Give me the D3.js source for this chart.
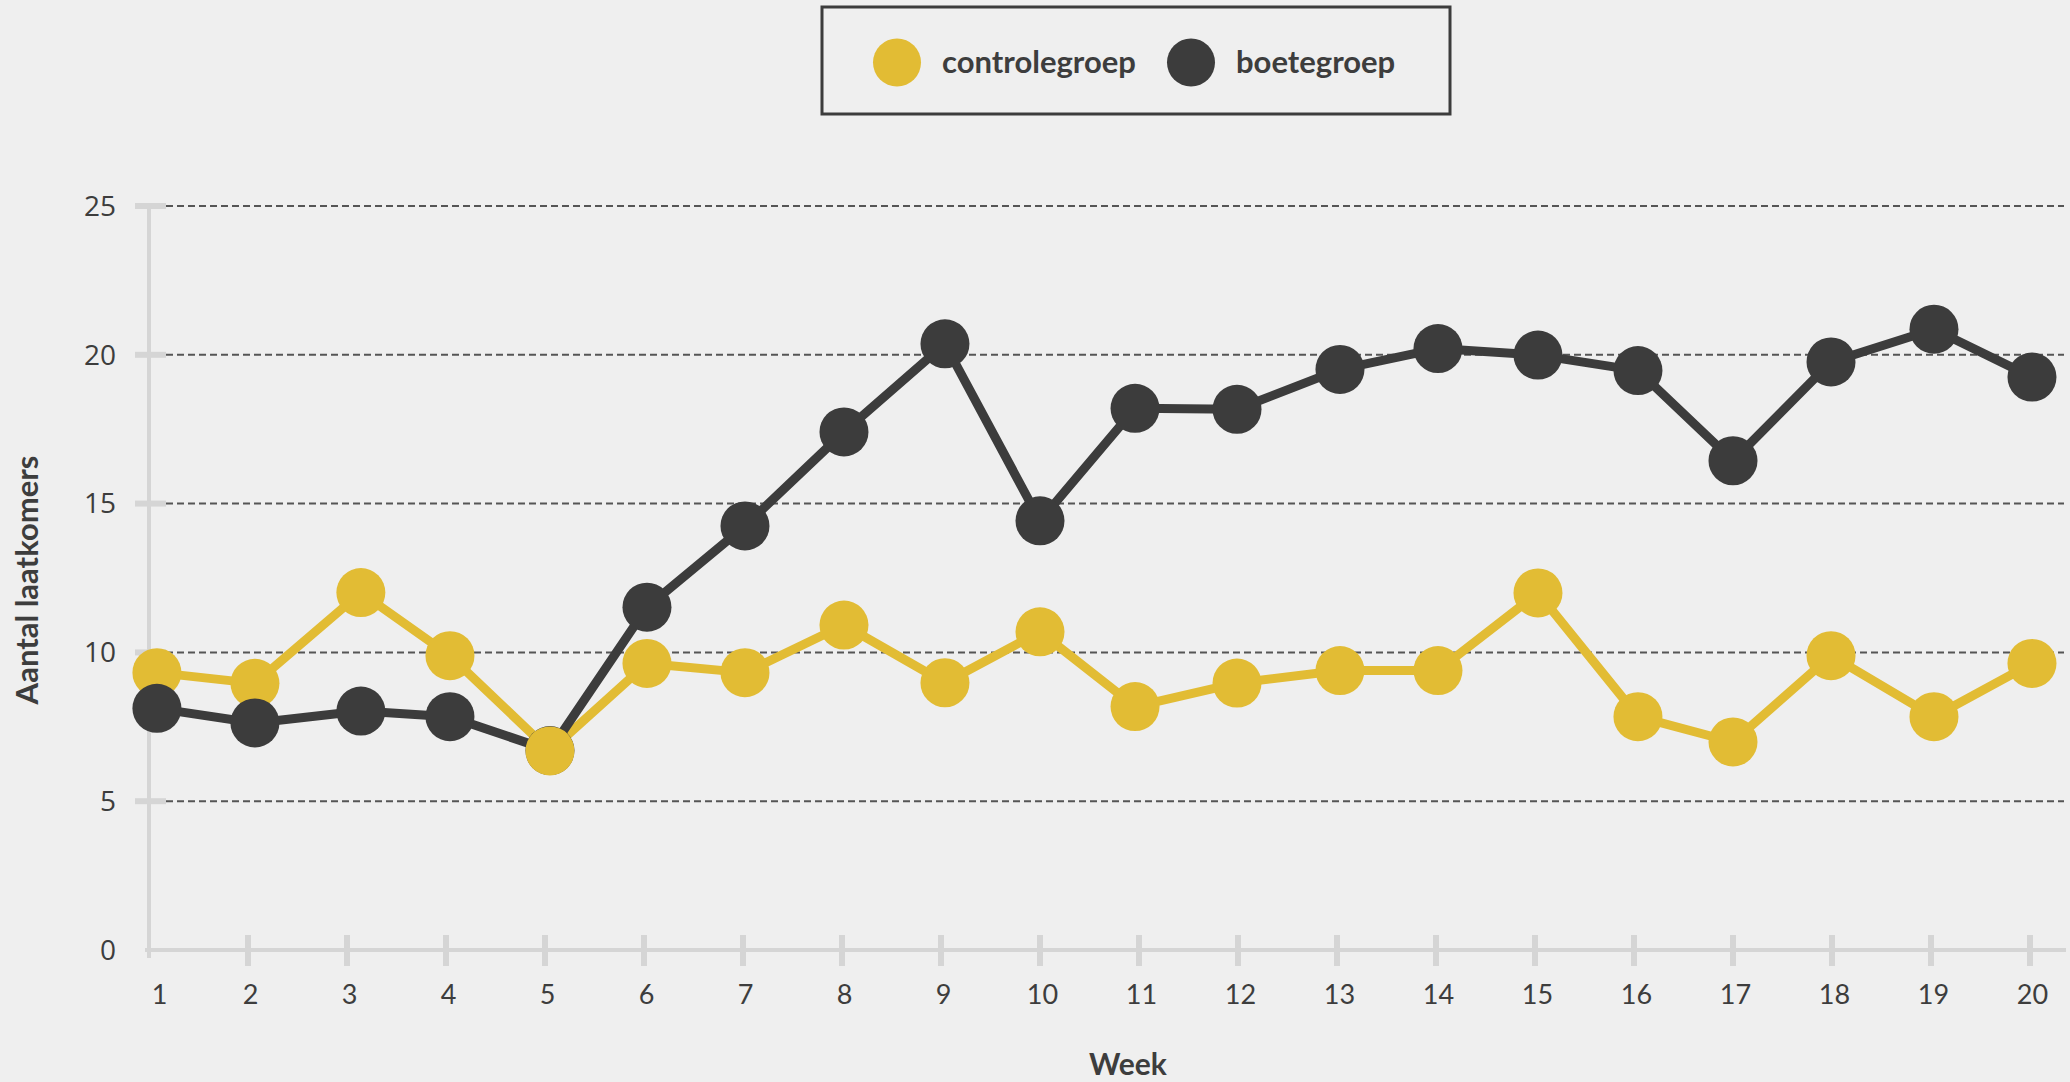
<!DOCTYPE html>
<html>
<head>
<meta charset="utf-8">
<script src="https://cdn.jsdelivr.net/npm/d3@7/dist/d3.min.js"></script>
<style>
  body { margin: 0; background: #efefef; }
  svg { display: block; }
</style>
</head>
<body>
<svg width="2070" height="1082"></svg>
<script>
// weeks and where each week's points sit
const weeks = [1,2,3,4,5,6,7,8,9,10,11,12,13,14,15,16,17,18,19,20];
const weekPos = [1.08,2.07,3.14,4.04,5.05,6.03,7.02,8.02,9.04,10.0,10.96,11.99,13.03,14.02,15.03,16.04,17.0,17.99,19.03,20.02];

const controlegroep = [9.32,8.96,12.01,9.89,6.69,9.63,9.32,10.92,8.98,10.69,8.18,8.97,9.39,9.39,12.0,7.84,6.99,9.89,7.84,9.63];
const boetegroep    = [8.12,7.63,8.03,7.84,6.70,11.52,14.25,17.41,20.37,14.42,18.20,18.17,19.51,20.21,19.99,19.47,16.44,19.76,20.86,19.25];

const yTicks = [0,5,10,15,20,25];
const seriesNames = ['controlegroep','boetegroep'];

const YELLOW = '#e2bc34', DARK = '#3c3c3c', AXIS = '#d5d5d5';
const FONT = '"Lato", sans-serif';

const series = [
  {name: seriesNames[0], values: controlegroep, color: YELLOW},
  {name: seriesNames[1], values: boetegroep, color: DARK}
];

const svg = d3.select('svg');

const x = d3.scaleLinear().domain([1,20]).range([149,2030]);
const y = d3.scaleLinear().domain([0,25]).range([950,206]);

// gridlines
svg.append('g')
  .selectAll('line')
  .data(yTicks.filter(t => t > 0))
  .enter()
  .append('line')
  .attr('x1',166).attr('x2',2064)
  .attr('y1',d => y(d)).attr('y2',d => y(d))
  .attr('stroke','#555')
  .attr('stroke-width',2)
  .attr('stroke-dasharray','7,4');

// y axis
const yAxis = svg.append('g')
  .attr('transform','translate(149,0)')
  .call(d3.axisLeft(y).tickValues(yTicks).tickSize(0).tickPadding(33));
yAxis.select('.domain').remove();
yAxis.selectAll('text')
  .attr('font-family','"Open Sans", sans-serif')
  .attr('font-size',28)
  .attr('fill','#3d3d3d')
  .attr('dy','0.33em');

svg.append('line')
  .attr('x1',149).attr('x2',149)
  .attr('y1',209).attr('y2',958)
  .attr('stroke',AXIS).attr('stroke-width',4);

svg.append('g')
  .selectAll('line')
  .data(yTicks.filter(t => t > 0))
  .enter()
  .append('line')
  .attr('x1',135).attr('x2',166)
  .attr('y1',d => y(d)).attr('y2',d => y(d))
  .attr('stroke',AXIS).attr('stroke-width',6);

// x axis
svg.append('line')
  .attr('x1',145).attr('x2',2066)
  .attr('y1',y(0)).attr('y2',y(0))
  .attr('stroke',AXIS).attr('stroke-width',4);

svg.append('g')
  .selectAll('line')
  .data(weeks.slice(1))
  .enter()
  .append('line')
  .attr('x1',d => x(d)).attr('x2',d => x(d))
  .attr('y1',935).attr('y2',966)
  .attr('stroke',AXIS).attr('stroke-width',6);

const xAxis = svg.append('g')
  .attr('transform','translate(0,950)')
  .call(d3.axisBottom(x).tickValues(weeks).tickFormat(d3.format('d')).tickSize(0).tickPadding(35));
xAxis.select('.domain').remove();
xAxis.selectAll('text')
  .attr('font-family',FONT)
  .attr('font-size',27)
  .attr('fill','#3d3d3d')
  .attr('dy','0.71em')
  .attr('dx',d => d == 1 ? 10 : 2);

// axis titles
svg.append('text')
  .attr('x',1128).attr('y',1075)
  .attr('text-anchor','middle')
  .attr('font-family',FONT)
  .attr('font-weight','bold')
  .attr('font-size',30)
  .attr('fill','#3d3d3d')
  .text('Week');

svg.append('text')
  .attr('transform','translate(38,580) rotate(-90)')
  .attr('text-anchor','middle')
  .attr('font-family',FONT)
  .attr('font-weight','bold')
  .attr('font-size',31)
  .attr('fill','#3d3d3d')
  .text('Aantal laatkomers');

// lines
const line = d3.line()
  .x((d,i) => x(weekPos[i]))
  .y(d => y(d));

svg.append('g')
  .selectAll('path')
  .data(series)
  .enter()
  .append('path')
  .attr('d',d => line(d.values))
  .attr('fill','none')
  .attr('stroke',d => d.color)
  .attr('stroke-width',9)
  .attr('stroke-linejoin','round');

// points: per week the lower value is drawn on top
const points = [];
series.forEach(s => s.values.forEach((v,i) => points.push({v: v, i: i, color: s.color})));
points.sort((a,b) => b.v - a.v);

svg.append('g')
  .selectAll('circle')
  .data(points)
  .enter()
  .append('circle')
  .attr('cx',d => x(weekPos[d.i]))
  .attr('cy',d => y(d.v))
  .attr('r',24.5)
  .attr('fill',d => d.color);

// legend
const legend = svg.append('g').attr('transform','translate(822,7)');
legend.append('rect')
  .attr('width',628).attr('height',107)
  .attr('fill','none')
  .attr('stroke',DARK)
  .attr('stroke-width',3);

const legendX = [75,369];
const items = legend.selectAll('.item')
  .data(series)
  .enter()
  .append('g')
  .attr('class','item')
  .attr('transform',(d,i) => 'translate(' + legendX[i] + ',0)');

items.append('circle')
  .attr('cx',0).attr('cy',55.5)
  .attr('r',24)
  .attr('fill',d => d.color);

items.append('text')
  .attr('x',45).attr('y',66)
  .attr('font-family',FONT)
  .attr('font-weight','bold')
  .attr('font-size',31)
  .attr('fill','#3d3d3d')
  .text(d => d.name);
</script>
</body>
</html>
